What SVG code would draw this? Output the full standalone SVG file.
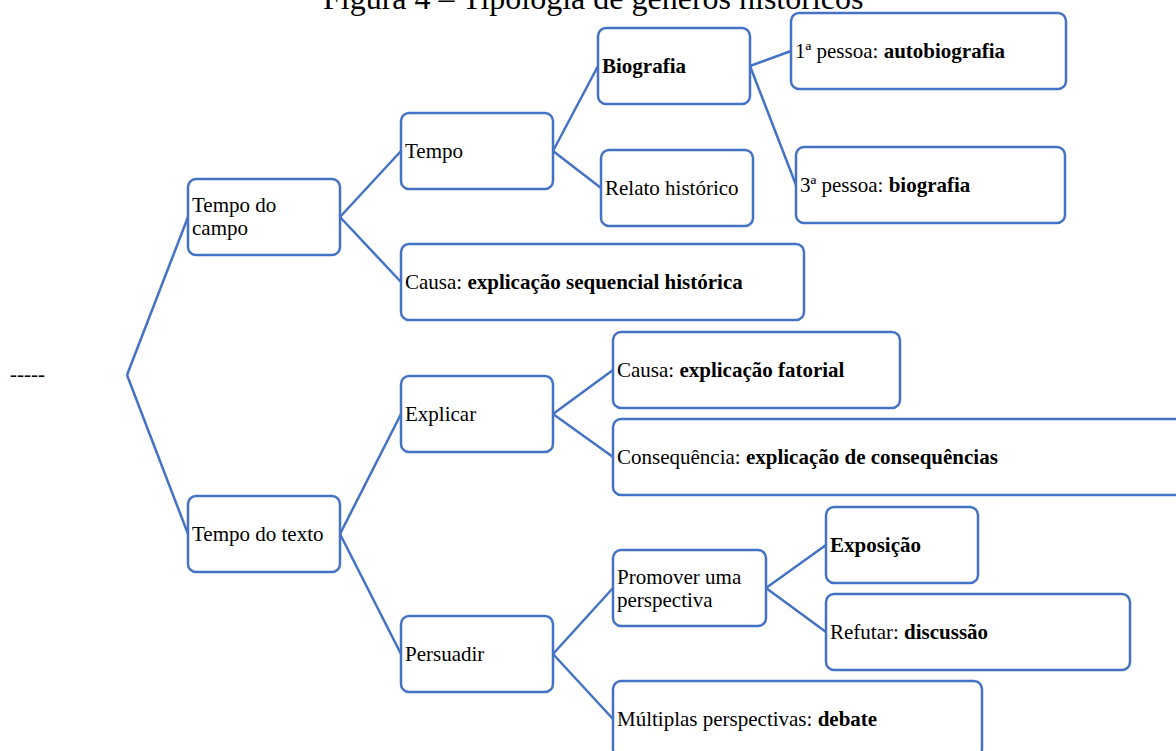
<svg xmlns="http://www.w3.org/2000/svg" width="1176" height="751" viewBox="0 0 1176 751">
<style>
.box{fill:#fff;stroke:#4472C4;stroke-width:2.5}
.t{font-family:"Liberation Serif","Times New Roman",serif;font-size:21px;fill:#000}
.b{font-weight:bold}
.title{font-family:"Liberation Serif","Times New Roman",serif;font-size:32px;fill:#000}
#connectors line{stroke:#4472C4;stroke-width:2.5;fill:none}
</style>
<rect width="1176" height="751" fill="#fff"/>
<text class="title" x="323" y="9">Figura 4 – Tipologia de gêneros históricos</text>
<text class="t" x="10" y="381" font-size="16">-----</text>
<g id="connectors">
<line x1="188" y1="217" x2="127" y2="375"/>
<line x1="127" y1="375" x2="188" y2="534"/>
<line x1="340" y1="217" x2="401" y2="151"/>
<line x1="340" y1="217" x2="401" y2="282"/>
<line x1="553" y1="151" x2="598" y2="66"/>
<line x1="553" y1="151" x2="601" y2="188"/>
<line x1="750" y1="66" x2="791" y2="51"/>
<line x1="750" y1="66" x2="796" y2="185"/>
<line x1="340" y1="534" x2="401" y2="414"/>
<line x1="340" y1="534" x2="401" y2="654"/>
<line x1="553" y1="414" x2="613" y2="370"/>
<line x1="553" y1="414" x2="613" y2="457"/>
<line x1="553" y1="654" x2="613" y2="588"/>
<line x1="553" y1="654" x2="613" y2="719"/>
<line x1="766" y1="588" x2="826" y2="545"/>
<line x1="766" y1="588" x2="826" y2="632"/>
</g>
<g id="n-tempo-campo"><rect class="box" x="188" y="179" width="152" height="76" rx="8"/><text class="t" x="192" y="212">Tempo do</text><text class="t" x="192" y="235">campo</text></g>
<g id="n-tempo-texto"><rect class="box" x="188" y="496" width="152" height="76" rx="8"/><text class="t" x="192" y="541">Tempo do texto</text></g>
<g id="n-tempo"><rect class="box" x="401" y="113" width="152" height="76" rx="8"/><text class="t" x="405" y="158">Tempo</text></g>
<g id="n-causa-seq"><rect class="box" x="401" y="244" width="403" height="76" rx="8"/><text class="t" x="405" y="289">Causa: <tspan class="b">explicação sequencial histórica</tspan></text></g>
<g id="n-explicar"><rect class="box" x="401" y="376" width="152" height="76" rx="8"/><text class="t" x="405" y="421">Explicar</text></g>
<g id="n-persuadir"><rect class="box" x="401" y="616" width="152" height="76" rx="8"/><text class="t" x="405" y="661">Persuadir</text></g>
<g id="n-biografia"><rect class="box" x="598" y="28" width="152" height="76" rx="8"/><text class="t b" x="602" y="73">Biografia</text></g>
<g id="n-relato"><rect class="box" x="601" y="150" width="152" height="76" rx="8"/><text class="t" x="605" y="195">Relato histórico</text></g>
<g id="n-primeira"><rect class="box" x="791" y="13" width="275" height="76" rx="8"/><text class="t" x="795" y="58">1ª pessoa: <tspan class="b">autobiografia</tspan></text></g>
<g id="n-terceira"><rect class="box" x="796" y="147" width="269" height="76" rx="8"/><text class="t" x="800" y="192">3ª pessoa: <tspan class="b">biografia</tspan></text></g>
<g id="n-causa-fat"><rect class="box" x="613" y="332" width="287" height="76" rx="8"/><text class="t" x="617" y="377">Causa: <tspan class="b">explicação fatorial</tspan></text></g>
<g id="n-consequencia"><rect class="box" x="613" y="419" width="600" height="76" rx="8"/><text class="t" x="617" y="464">Consequência: <tspan class="b">explicação de consequências</tspan></text></g>
<g id="n-promover"><rect class="box" x="613" y="550" width="153" height="76" rx="8"/><text class="t" x="617" y="584">Promover uma</text><text class="t" x="617" y="607">perspectiva</text></g>
<g id="n-exposicao"><rect class="box" x="826" y="507" width="152" height="76" rx="8"/><text class="t b" x="830" y="552">Exposição</text></g>
<g id="n-refutar"><rect class="box" x="826" y="594" width="304" height="76" rx="8"/><text class="t" x="830" y="639">Refutar: <tspan class="b">discussão</tspan></text></g>
<g id="n-multiplas"><rect class="box" x="613" y="681" width="369" height="76" rx="8"/><text class="t" x="617" y="726">Múltiplas perspectivas: <tspan class="b">debate</tspan></text></g>
</svg>
